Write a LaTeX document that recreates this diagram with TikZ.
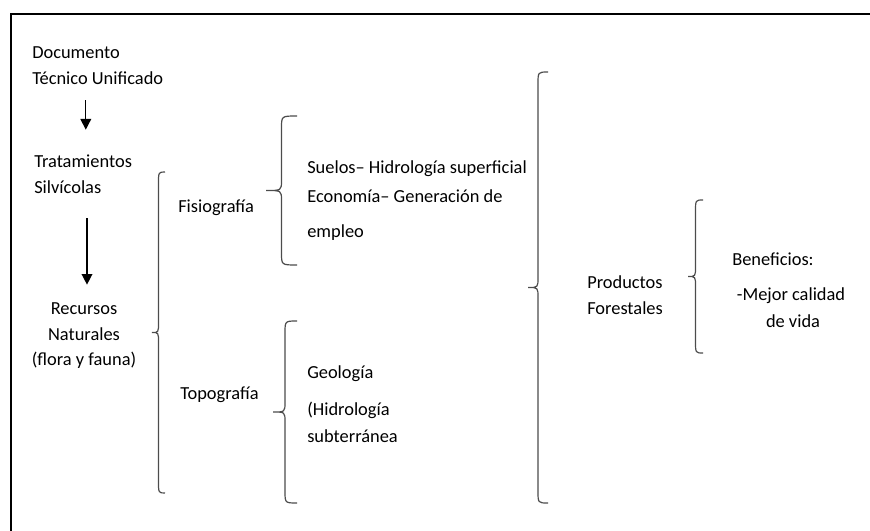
\documentclass[tikz,border=0pt]{standalone}
\usepackage{fontspec}
\setmainfont{Carlito}
\usepackage{tikz}
\usetikzlibrary{arrows.meta}

% left brace: end x, tip x, top y, bottom y
\newcommand{\llave}[4]{%
  \draw[llave] (#1,#3) .. controls ({(#1+#2)/2},#3) .. ({(#1+#2)/2},{#3+12})
    -- ({(#1+#2)/2},{(#3+#4)/2-10}) .. controls ({(#1+#2)/2},{(#3+#4)/2}) .. (#2,{(#3+#4)/2})
    .. controls ({(#1+#2)/2},{(#3+#4)/2}) .. ({(#1+#2)/2},{(#3+#4)/2+10})
    -- ({(#1+#2)/2},{#4-12}) .. controls ({(#1+#2)/2},#4) .. (#1,#4);}

\begin{document}
\begin{tikzpicture}[x=0.75pt,y=-0.75pt,
    texto/.style={inner sep=0pt,text height=10pt,text depth=3pt,font=\fontsize{13.8}{16}\selectfont},
    flecha/.style={-{Triangle[length=8pt,width=8pt]},line width=1pt},
    llave/.style={draw=black!70,line width=0.9pt}]
      \useasboundingbox (0,0) rectangle (870,531);
      \draw[line width=1.5pt] (870,14) -- (11,14) -- (11,531);
      % first column
      \node[texto,anchor=base west] (doc1) at (32,59) {Documento};
      \node[texto,anchor=base west] (doc2) at (32,85) {Técnico Unificado};
      \node[texto,anchor=base west] (trat1) at (34,167) {Tratamientos};
      \node[texto,anchor=base west] (trat2) at (34,193) {Silvícolas};
      \node[texto,anchor=base] (rec1) at (84,314) {Recursos};
      \node[texto,anchor=base] (rec2) at (84,340) {Naturales};
      \node[texto,anchor=base] (rec3) at (84,365) {(flora y fauna)};
      \draw[flecha,shorten <=8.25pt,shorten >=17.8pt] ([xshift=2pt]trat1.north |- doc2.south) -- ([xshift=2pt]trat1.north);
      \draw[flecha,shorten <=15.75pt,shorten >=11.8pt] ([xshift=2.25pt]rec1.north |- trat2.south) -- ([xshift=2.25pt]rec1.north);
      % second column
      \llave{165}{152}{172}{493}
      \node[texto,anchor=base west] (fis) at (178,212) {Fisiografía};
      \node[texto,anchor=base west] (topo) at (180,399) {Topografía};
      % third column
      \llave{297}{266}{116}{265}
      \node[texto,anchor=base west] (sue) at (307,173) {Suelos-- Hidrología superficial};
      \node[texto,anchor=base west] (eco) at (307,202) {Economía-- Generación de};
      \node[texto,anchor=base west] (emp) at (307,237) {empleo};
      \llave{297}{273}{321}{503}
      \node[texto,anchor=base west] (geo) at (307,378) {Geología};
      \node[texto,anchor=base west] (hid) at (307,415) {(Hidrología};
      \node[texto,anchor=base west] (sub) at (307,442) {subterránea};
      % products
      \llave{548}{528}{72}{503}
      \node[texto,anchor=base west] (prod) at (587,288) {Productos};
      \node[texto,anchor=base west] (fore) at (587,314) {Forestales};
      \llave{703}{688}{200}{353}
      \node[texto,anchor=base west] (ben) at (732,265) {Beneficios:};
      \node[texto,anchor=base] (mej) at (791,300) {-Mejor calidad};
      \node[texto,anchor=base] (vida) at (793,327) {de vida};
    \end{tikzpicture}
\end{document}
